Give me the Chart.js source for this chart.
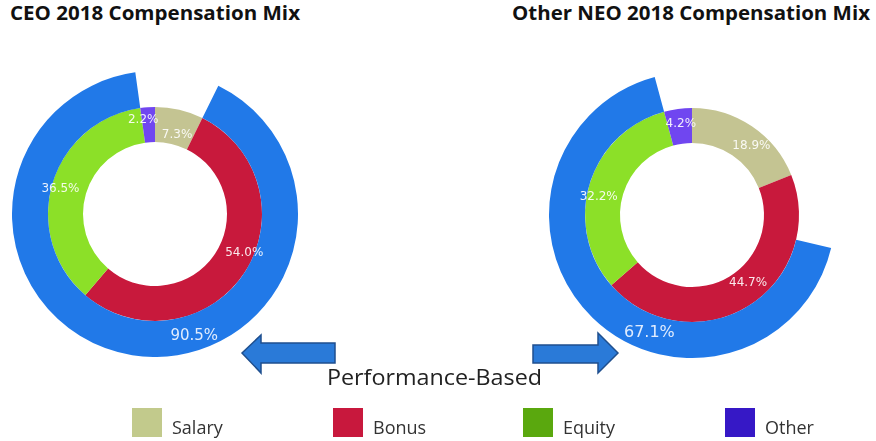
<!DOCTYPE html>
<html><head><meta charset="utf-8">
<script src="https://cdn.jsdelivr.net/npm/chart.js@4/dist/chart.umd.min.js"></script>
<style>
html,body{margin:0;padding:0;background:#fff;}
body{width:876px;height:441px;position:relative;overflow:hidden;font-family:'Open Sans',sans-serif;}
.t{position:absolute;white-space:nowrap;line-height:1;transform-origin:0 0;color:#111;}
.title{font-weight:bold;font-size:19px;}
canvas{position:absolute;}
.sq{position:absolute;width:30px;height:29px;}
.lg{font-size:18px;color:#333;}
</style></head>
<body>
<div class="t title" id="t1" data-w="290" style="left:10px;top:4px">CEO 2018 Compensation Mix</div>
<div class="t title" id="t2" data-w="358" style="left:512px;top:4px">Other NEO 2018 Compensation Mix</div>
<canvas id="ceo" width="286" height="286" style="left:12px;top:71px"></canvas>
<canvas id="neo" width="286" height="286" style="left:549px;top:72px"></canvas>
<svg width="876" height="441" style="position:absolute;left:0;top:0;pointer-events:none">
  <polygon points="242,353 261,335 261,343 335,343 335,363 261,363 261,373" fill="#2a7ad8" stroke="#1f4f8e" stroke-width="1.5"/>
  <polygon points="618,353 598,333 598,345 533,345 533,363 598,363 598,373" fill="#2a7ad8" stroke="#1f4f8e" stroke-width="1.5"/>
</svg>
<div class="t" id="pb" data-w="215" style="left:327px;top:365px;font-size:22px;color:#222">Performance-Based</div>
<div id="legend"></div>
<script>
// ---- data ----
const categories = ['Salary', 'Bonus', 'Equity', 'Other'];
const ceoMix = [7.3, 54.0, 36.5, 2.2];
const neoMix = [18.9, 44.7, 32.2, 4.2];
const ceoPerformanceBased = 90.5;
const neoPerformanceBased = 67.1;
const chartTitles = ['CEO 2018 Compensation Mix', 'Other NEO 2018 Compensation Mix'];
const perfLabel = 'Performance-Based';

// ---- styles ----
const ringColors = ['#c4c492', '#c8193c', '#8ce028', '#7046f0'];
const legendColors = ['#c2ca8c', '#c8183d', '#5aa80e', '#3618c6'];
const perfColor = '#2179e8';

// label placement (fraction along arc, fraction across ring)
const ceoPlace = {inner: {along: [0.59, 0.45, 0.49, 0.1], radial: [0.3, 0.73, 0.74, 0.66]}, outer: {along: 0.417, radial: 0.58}, outerFont: 15};
const neoPlace = {inner: {along: [0.6, 0.45, 0.45, 0.54], radial: [0.54, 0.46, 0.66, 0.57]}, outer: {along: 0.40, radial: 0.5}, outerFont: 16};

const arcLabels = {
  id: 'arcLabels',
  afterDatasetsDraw(chart) {
    const ctx = chart.ctx;
    chart.data.datasets.forEach((ds, di) => {
      const meta = chart.getDatasetMeta(di);
      const L = ds.labels;
      if (!L) return;
      meta.data.forEach((arc, i) => {
        const text = L.text[i];
        if (!text) return;
        const p = arc.getProps(['x', 'y', 'startAngle', 'endAngle', 'innerRadius', 'outerRadius'], true);
        const fa = Array.isArray(L.along) ? L.along[i] : L.along;
        const fr = Array.isArray(L.radial) ? L.radial[i] : L.radial;
        const a = p.startAngle + (p.endAngle - p.startAngle) * fa;
        const r = p.innerRadius + (p.outerRadius - p.innerRadius) * fr;
        ctx.save();
        ctx.font = L.font;
        ctx.fillStyle = L.color;
        ctx.textAlign = 'center';
        ctx.textBaseline = 'middle';
        ctx.fillText(text, p.x + Math.cos(a) * r, p.y + Math.sin(a) * r);
        ctx.restore();
      });
    });
  }
};

function makeChart(id, mix, perf, place) {
  const other = mix[mix.length - 1];
  const before = +(100 - perf - other).toFixed(1);
  return new Chart(document.getElementById(id), {
    type: 'doughnut',
    data: {
      labels: categories,
      datasets: [
        {
          data: [before, perf, other],
          backgroundColor: ['rgba(0,0,0,0)', perfColor, 'rgba(0,0,0,0)'],
          borderWidth: 0, weight: 36,
          labels: {text: ['', perf.toFixed(1) + '%', ''], along: [0, place.outer.along, 0], radial: place.outer.radial,
                   font: place.outerFont + 'px "DejaVu Sans"', color: 'rgba(235,242,255,0.95)'}
        },
        {
          data: mix,
          backgroundColor: ringColors,
          borderWidth: 0, weight: 35,
          labels: {text: mix.map(v => v.toFixed(1) + '%'), along: place.inner.along, radial: place.inner.radial,
                   font: '12px "DejaVu Sans"', color: 'rgba(255,255,255,0.9)'}
        }
      ]
    },
    options: {
      responsive: false, animation: false, cutout: '50.35%',
      layout: {padding: 0},
      plugins: {legend: {display: false}, tooltip: {enabled: false}, title: {display: false}}
    },
    plugins: [arcLabels]
  });
}
makeChart('ceo', ceoMix, ceoPerformanceBased, ceoPlace);
makeChart('neo', neoMix, neoPerformanceBased, neoPlace);

// legend
const lgX = [132, 333, 523, 725];
const legend = document.getElementById('legend');
categories.forEach((c, i) => {
  const sq = document.createElement('div');
  sq.className = 'sq';
  sq.style.left = lgX[i] + 'px'; sq.style.top = '408px'; sq.style.background = legendColors[i];
  legend.appendChild(sq);
  const t = document.createElement('div');
  t.className = 't lg';
  t.style.left = (lgX[i] + 40) + 'px'; t.style.top = '418px';
  t.textContent = c;
  legend.appendChild(t);
});

// fit text widths
document.querySelectorAll('[data-w]').forEach(el => {
  const w = el.getBoundingClientRect().width;
  const target = +el.dataset.w;
  el.style.transform = 'scaleX(' + (target / w) + ')';
});
</script>
</body></html>
